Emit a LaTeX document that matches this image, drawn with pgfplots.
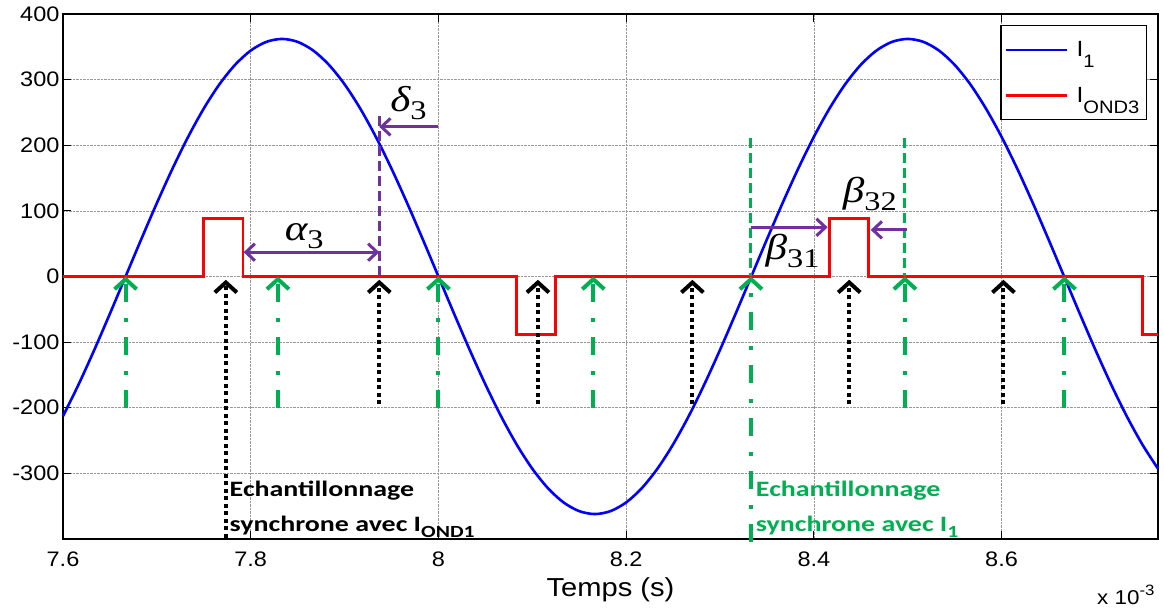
\documentclass[border=0pt]{standalone}
\usepackage{fontspec}
\setmainfont{Liberation Sans}[FakeStretch=1.12]
\newfontfamily\calib{Carlito}[FakeStretch=1.27]
\newfontfamily\tnr{Liberation Serif}[FakeStretch=1.2]
\usepackage{pgfplots}
\pgfplotsset{compat=1.18}
\usetikzlibrary{arrows.meta}
\definecolor{mgreen}{RGB}{0,176,80}
\definecolor{mpurple}{RGB}{112,48,160}
\tikzset{
 barbB/.style={-{Straight Barb[length=10pt,width=22pt]}},
 blackarr/.style={black, line width=4pt, dash pattern=on 4pt off 3.5pt, barbB},
 greenarr/.style={mgreen, line width=4pt, dash pattern=on 18pt off 15pt on 4pt off 16pt, barbB},
 greendash/.style={mgreen, line width=3pt, dash pattern=on 10pt off 5pt},
 purpdash/.style={mpurple, line width=3pt, dash pattern=on 10pt off 5pt},
 purparr/.style={mpurple, line width=3pt, -{Straight Barb[length=9pt,width=17pt]}},
 purparrB/.style={mpurple, line width=3pt, {Straight Barb[length=9pt,width=17pt]}-{Straight Barb[length=9pt,width=17pt]}},
 greek/.style={anchor=base, inner sep=0pt, font=\tnr\fontsize{36}{36}\selectfont},
}
\newcommand{\gsub}[1]{\raisebox{-8pt}{\upshape\fontsize{27}{27}\selectfont #1}}
\begin{document}
\begin{tikzpicture}
\begin{axis}[
 at={(63pt,76pt)}, anchor=south west,
 scale only axis, width=1095pt, height=525pt,
 xmin=7.6, xmax=8.76667, ymin=-400, ymax=400,
 xtick={7.6,7.8,8,8.2,8.4,8.6}, xticklabels={7.6,7.8,8,8.2,8.4,8.6},
 ytick={-300,-200,-100,0,100,200,300,400},
 yticklabels={-300,-200,-100,0,100,200,300,400},
 tick align=inside, major tick length=8pt,
 tick style={black, line width=1pt},
 axis line style={black, line width=1.8pt},
 grid=major, grid style={gray!80, densely dotted, line width=0.6pt},
 ticklabel style={font=\fontsize{21}{21}\selectfont},
 xticklabel style={anchor=base, yshift=-28pt},
 xlabel={Temps (s)},
 xlabel style={at={(axis description cs:0.5,0)}, anchor=base, yshift=-58pt, font=\fontsize{26}{26}\selectfont},
 clip=false,
 legend style={at={(rel axis cs:0.98995,0.979)}, anchor=north east,
   draw=black, line width=1.2pt, fill=white,
   font=\fontsize{22}{22}\selectfont,
   inner xsep=4pt, inner ysep=13pt, row sep=23pt,
   nodes={inner sep=3pt},
   cells={anchor=west},
   /tikz/every odd column/.append style={column sep=5pt}},
 legend image code/.code={\draw[#1] (7pt,0pt) -- (68pt,0pt);},
]
\addplot[blue, line width=2.6pt, smooth] coordinates {
(7.6,-212.78) (7.61667,-164.34) (7.63333,-111.86) (7.65,-56.63) (7.66667,0)
(7.68333,56.63) (7.7,111.86) (7.71667,164.34) (7.73333,212.78) (7.75,255.97)
(7.76667,292.86) (7.78333,322.55) (7.8,344.28) (7.81667,357.54) (7.83333,362)
(7.85,357.54) (7.86667,344.28) (7.88333,322.55) (7.9,292.86) (7.91667,255.97)
(7.93333,212.78) (7.95,164.34) (7.96667,111.86) (7.98333,56.63) (8.0,0)
(8.01667,-56.63) (8.03333,-111.86) (8.05,-164.34) (8.06667,-212.78) (8.08333,-255.97)
(8.1,-292.86) (8.11667,-322.55) (8.13333,-344.28) (8.15,-357.54) (8.16667,-362)
(8.18333,-357.54) (8.2,-344.28) (8.21667,-322.55) (8.23333,-292.86) (8.25,-255.97)
(8.26667,-212.78) (8.28333,-164.34) (8.3,-111.86) (8.31667,-56.63) (8.33333,0)
(8.35,56.63) (8.36667,111.86) (8.38333,164.34) (8.4,212.78) (8.41667,255.97)
(8.43333,292.86) (8.45,322.55) (8.46667,344.28) (8.48333,357.54) (8.5,362)
(8.51667,357.54) (8.53333,344.28) (8.55,322.55) (8.56667,292.86) (8.58333,255.97)
(8.6,212.78) (8.61667,164.34) (8.63333,111.86) (8.65,56.63) (8.66667,0)
(8.68333,-56.63) (8.7,-111.86) (8.71667,-164.34) (8.73333,-212.78) (8.75,-255.97)
(8.76667,-292.86)
};
\addlegendentry{I\smash{\raisebox{-11pt}{\fontsize{18}{18}\selectfont 1}}}
\addplot[red, line width=2.6pt] coordinates {
(7.6,0) (7.75,0) (7.75,88) (7.7917,88) (7.7917,0) (8.0833,0) (8.0833,-88) (8.125,-88)
(8.125,0) (8.4167,0) (8.4167,88) (8.4583,88) (8.4583,0) (8.75,0) (8.75,-88) (8.76667,-88)
};
\addlegendentry{I\smash{\raisebox{-11pt}{\fontsize{18}{18}\selectfont OND3}}}
% sampling synchronous with I_OND1 (black)
\draw[blackarr] (axis cs:7.7735,-398) -- (axis cs:7.7735,-5);
\draw[blackarr] (axis cs:7.937,-195) -- (axis cs:7.937,-5);
\draw[blackarr] (axis cs:8.106,-195) -- (axis cs:8.106,-5);
\draw[blackarr] (axis cs:8.2706,-195) -- (axis cs:8.2706,-5);
\draw[blackarr] (axis cs:8.4377,-195) -- (axis cs:8.4377,-5);
\draw[blackarr] (axis cs:8.602,-195) -- (axis cs:8.602,-5);
% sampling synchronous with I_1 (green)
\draw[greenarr] (axis cs:7.6667,-200) -- (axis cs:7.6667,0);
\draw[greenarr] (axis cs:7.829,-200) -- (axis cs:7.829,0);
\draw[greenarr] (axis cs:8.0,-200) -- (axis cs:8.0,0);
\draw[greenarr] (axis cs:8.165,-200) -- (axis cs:8.165,0);
\draw[greenarr] (axis cs:8.333,-404) -- (axis cs:8.333,0);
\draw[greenarr] (axis cs:8.497,-200) -- (axis cs:8.497,0);
\draw[greenarr] (axis cs:8.667,-200) -- (axis cs:8.667,0);
\draw[greendash] (axis cs:8.333,211) -- (axis cs:8.333,0);
\draw[greendash] (axis cs:8.497,211) -- (axis cs:8.497,0);
% purple annotations
\draw[purpdash] (axis cs:7.937,244) -- (axis cs:7.937,0);
\draw[purparrB] (axis cs:7.7925,37) -- (axis cs:7.937,37);
\draw[purparr] (axis cs:8.0,228) -- (axis cs:7.937,228);
\draw[purparr] (axis cs:8.333,75) -- (axis cs:8.4147,75);
\draw[purparr] (axis cs:8.4995,71) -- (axis cs:8.4606,71);
\node[greek] at (axis cs:7.857,55) {\itshape α\gsub{3}};
\node[greek] at (axis cs:7.968,252) {\itshape δ\gsub{3}};
\node[greek] at (axis cs:8.3773,26) {\itshape β\gsub{31}};
\node[greek] at (axis cs:8.4597,112) {\itshape β\gsub{32}};
% texts
\node[anchor=base west, inner sep=0pt, font=\calib\bfseries\fontsize{22}{22}\selectfont] at (axis cs:7.7774,-334.8) {Echantillonnage};
\node[anchor=base west, inner sep=0pt, font=\calib\bfseries\fontsize{22}{22}\selectfont] at (axis cs:7.7774,-388) {synchrone avec I\raisebox{-6pt}{\fontsize{17}{17}\selectfont OND1}};
\node[anchor=base west, inner sep=0pt, text=mgreen, font=\calib\bfseries\fontsize{22}{22}\selectfont] at (axis cs:8.3381,-334.8) {Echantillonnage};
\node[anchor=base west, inner sep=0pt, text=mgreen, font=\calib\bfseries\fontsize{22}{22}\selectfont] at (axis cs:8.3381,-388) {synchrone avec I\raisebox{-6pt}{\fontsize{17}{17}\selectfont 1}};
\end{axis}
\node[anchor=base west, inner sep=0pt, font=\fontsize{20}{20}\selectfont] at (1097pt,10pt) {x 10\raisebox{9pt}{\fontsize{15}{15}\selectfont -3}};
\pgfresetboundingbox
\useasboundingbox (0pt,0pt) rectangle (1164pt,615pt);
\end{tikzpicture}
\end{document}
